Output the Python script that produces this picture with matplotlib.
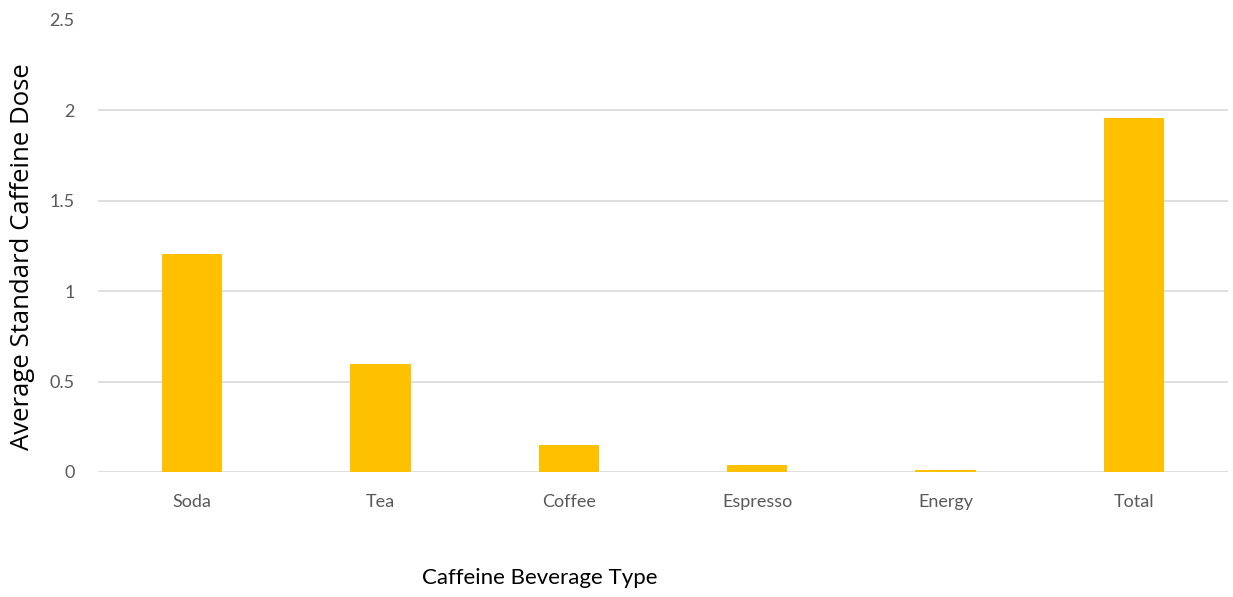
import matplotlib
matplotlib.use("Agg")
import matplotlib.pyplot as plt

# data
categories = ["Soda", "Tea", "Coffee", "Espresso", "Energy", "Total"]
doses = [1.204, 0.597, 0.149, 0.040, 0.012, 1.96]
y_ticks = [0, 0.5, 1, 1.5, 2, 2.5]
y_tick_labels = ["0", "0.5", "1", "1.5", "2", "2.5"]

fig = plt.figure(figsize=(12.33, 5.97), dpi=100)
ax = fig.add_axes([0.0795, 0.2094, 0.9165, 0.7571])

ax.bar(range(len(categories)), doses, width=0.32, color="#FFC000", zorder=3)

ax.set_xlim(-0.5, len(categories) - 0.5)
ax.set_ylim(0, 2.5)
ax.set_yticks(y_ticks)
ax.set_yticklabels(y_tick_labels)
ax.set_xticks(range(len(categories)))
ax.set_xticklabels(categories)

for s in ax.spines.values():
    s.set_visible(False)
ax.tick_params(axis="both", length=0, labelsize=13, labelcolor="#595959")
ax.tick_params(axis="x", pad=16)
ax.tick_params(axis="y", pad=17)
for lab in ax.get_xticklabels() + ax.get_yticklabels():
    lab.set_family("Lato")

ax.yaxis.grid(True, color="#dcdcdc", linewidth=1.3, zorder=0)
ax.get_ygridlines()[-1].set_visible(False)
ax.set_axisbelow(True)

fig.text(0.438, 0.031, "Caffeine Beverage Type", ha="center", va="center",
         fontsize=16, family="Lato", color="black")
fig.text(0.018, 0.57, "Average Standard Caffeine Dose", ha="center", va="center",
         rotation=90, fontsize=18.5, family="Open Sans", color="black")

fig.savefig("out.png", dpi=100)
